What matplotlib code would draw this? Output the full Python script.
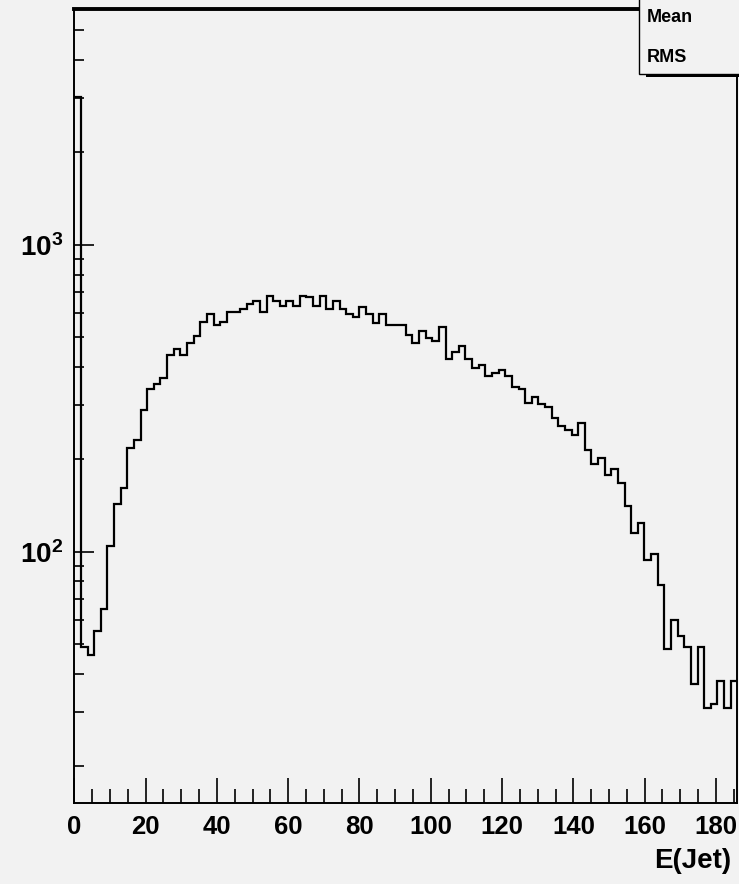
import numpy as np
import matplotlib
matplotlib.use("Agg")
import matplotlib.pyplot as plt
from matplotlib.patches import Rectangle
from matplotlib.ticker import FixedLocator, NullFormatter

# histogram of E(Jet): 100 bins between 0 and 186
x_lo, x_hi, n_bins = 0.0, 186.0, 100
counts = [
    3040, 49, 46, 55, 65, 104, 143, 161, 217, 231,
    290, 338, 352, 368, 438, 457, 438, 478, 505, 561,
    596, 549, 560, 605, 605, 617, 642, 658, 604, 683,
    658, 632, 655, 632, 683, 675, 632, 683, 620, 655,
    620, 596, 584, 629, 596, 558, 593, 547, 547, 547,
    509, 478, 525, 496, 486, 538, 424, 449, 469, 424,
    398, 406, 374, 383, 391, 374, 345, 338, 306, 320,
    302, 296, 272, 256, 249, 240, 262, 215, 193, 202,
    178, 186, 168, 141, 115, 124, 94, 98, 78, 48,
    60, 53, 49, 37, 49, 31, 32, 38, 31, 38,
]
x_ticks = [0, 20, 40, 60, 80, 100, 120, 140, 160, 180]
y_ticks = [100, 1000]
y_tick_labels = [r"$10^{2}$", r"$10^{3}$"]
y_range = (15.2, 5870)

bg = "#f2f2f2"
plt.rcParams["font.family"] = "Liberation Sans"
plt.rcParams["font.weight"] = "bold"
plt.rcParams["mathtext.fontset"] = "custom"
plt.rcParams["mathtext.rm"] = "Liberation Sans:bold"
plt.rcParams["mathtext.it"] = "Liberation Sans:bold"
plt.rcParams["mathtext.bf"] = "Liberation Sans:bold"

W, H = 739, 884
fig = plt.figure(figsize=(W / 100, H / 100), dpi=100, facecolor=bg)
ax = fig.add_axes([74.3 / W, 1 - 802.7 / H, (737.3 - 74.3) / W, (802.7 - 9) / H])
ax.set_facecolor(bg)

edges = np.linspace(x_lo, x_hi, n_bins + 1)
ax.stairs(counts, edges, color="black", lw=1.6, baseline=None)

ax.set_yscale("log")
ax.set_xlim(x_lo, x_hi)
ax.set_ylim(*y_range)

ax.set_xticks(x_ticks)
ax.set_xticklabels([str(t) for t in x_ticks])
ax.xaxis.set_minor_locator(FixedLocator(np.arange(5, x_hi, 5)))
ax.set_yticks(y_ticks)
ax.set_yticklabels(y_tick_labels)
ax.yaxis.set_minor_locator(FixedLocator(
    [v * m for v in (10, 100, 1000) for m in range(2, 10)]))
ax.yaxis.set_minor_formatter(NullFormatter())

ax.tick_params(axis="x", which="major", direction="in", length=18, width=1.2,
               labelsize=18.5, pad=9)
ax.tick_params(axis="x", which="minor", direction="in", length=10, width=1.2)
ax.tick_params(axis="y", which="major", direction="in", length=14.4, width=1.2,
               labelsize=20, pad=8)
ax.tick_params(axis="y", which="minor", direction="in", length=7.2, width=1.2)
for lab in ax.get_xticklabels() + ax.get_yticklabels():
    lab.set_fontweight("bold")

for side in ["left", "bottom", "right"]:
    ax.spines[side].set_linewidth(1.4)
ax.spines["top"].set_linewidth(2.8)

fig.text(731 / W, 1 - 861 / H, "E(Jet)", ha="right", va="center",
         fontsize=20, fontweight="bold")

# stats box (cut off by the canvas edge)
shadow = Rectangle((646 / W, 1 - 77 / H), 120 / W, 100 / H,
                   transform=fig.transFigure, facecolor="black",
                   edgecolor="none", zorder=5)
box = Rectangle((639 / W, 1 - 74 / H), 120 / W, 100 / H,
                transform=fig.transFigure, facecolor=bg,
                edgecolor="black", lw=1.0, zorder=6)
fig.add_artist(shadow)
fig.add_artist(box)
fig.text(647 / W, 1 - 17 / H, "Mean", ha="left", va="center",
         fontsize=13, fontweight="bold", zorder=7)
fig.text(647 / W, 1 - 57 / H, "RMS", ha="left", va="center",
         fontsize=13, fontweight="bold", zorder=7)

fig.savefig("out.png", dpi=100, facecolor=bg)
